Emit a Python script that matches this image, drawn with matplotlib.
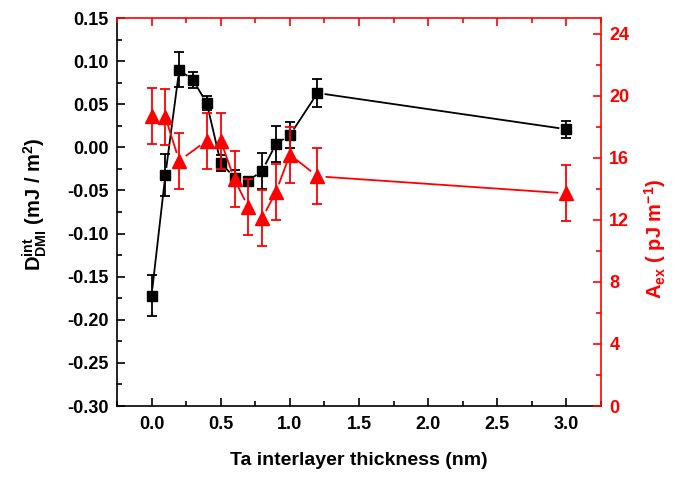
import matplotlib
matplotlib.use("Agg")
import matplotlib.pyplot as plt
import numpy as np
from matplotlib.ticker import MultipleLocator, FormatStrFormatter

plt.rcParams['font.family'] = ['Liberation Sans', 'DejaVu Sans']
plt.rcParams['font.weight'] = 'bold'
plt.rcParams['mathtext.fontset'] = 'custom'
plt.rcParams['mathtext.rm'] = 'Liberation Sans:bold'
plt.rcParams['mathtext.bf'] = 'Liberation Sans:bold'
plt.rcParams['mathtext.it'] = 'Liberation Sans:bold'

# Ta thickness (nm)
thickness = [0.0, 0.1, 0.2, 0.3, 0.4, 0.5, 0.6, 0.7, 0.8, 0.9, 1.0, 1.2, 3.0]
# interfacial DMI (mJ/m^2) and its error
d_dmi = [-0.172, -0.032, 0.090, 0.078, 0.051, -0.018, -0.035, -0.039,
         -0.027, 0.004, 0.014, 0.063, 0.021]
d_err = [0.024, 0.024, 0.020, 0.009, 0.008, 0.009, 0.009, 0.005,
         0.021, 0.021, 0.015, 0.016, 0.010]
# exchange stiffness (pJ/m) and its error (no point at 0.3 nm)
a_thick = [0.0, 0.1, 0.2, 0.4, 0.5, 0.6, 0.7, 0.8, 0.9, 1.0, 1.2, 3.0]
a_ex = [18.7, 18.6, 15.8, 17.1, 17.1, 14.6, 12.8, 12.1, 13.8, 16.2, 14.8, 13.7]
a_err = [1.8] * len(a_ex)


def gapped_line(axis, xs, ys, gap, **kw):
    # connect points with short gaps around each symbol
    pts = axis.transData.transform(np.column_stack([xs, ys]))
    inv = axis.transData.inverted()
    for p0, p1 in zip(pts[:-1], pts[1:]):
        d = p1 - p0
        L = np.hypot(*d)
        if L <= 2 * gap:
            continue
        u = d / L
        seg = inv.transform(np.array([p0 + u * gap, p1 - u * gap]))
        axis.plot(seg[:, 0], seg[:, 1], **kw)


fig = plt.figure(figsize=(6.93, 4.79), dpi=100)
ax = fig.add_axes([0.1688, 0.1524, 0.6984, 0.81])
ax.set_xlim(-0.25, 3.25)
ax.set_ylim(-0.30, 0.15)

gapped_line(ax, thickness, d_dmi, 8, color='black', linewidth=1.3)
ax.errorbar(thickness, d_dmi, yerr=d_err, color='black', marker='s', markersize=7.5,
            linestyle='none', elinewidth=1.3, capsize=3.5, capthick=1.3)
ax.xaxis.set_major_locator(MultipleLocator(0.5))
ax.xaxis.set_minor_locator(MultipleLocator(0.25))
ax.yaxis.set_major_locator(MultipleLocator(0.05))
ax.yaxis.set_minor_locator(MultipleLocator(0.025))
ax.xaxis.set_major_formatter(FormatStrFormatter('%.1f'))
ax.yaxis.set_major_formatter(FormatStrFormatter('%.2f'))
ax.tick_params(which='both', direction='in', top=False, right=False, labelsize=13, width=1.2)
ax.tick_params(axis='x', which='major', pad=7)
ax.tick_params(axis='y', which='major', pad=6)
ax.tick_params(which='major', length=6)
ax.tick_params(which='minor', length=3.5)
for s in ax.spines.values():
    s.set_linewidth(1.2)
ax.set_xlabel('Ta interlayer thickness (nm)', fontsize=14, fontweight='bold', labelpad=14)
ax.set_ylabel(r'D$^{\mathbf{int}}_{\mathbf{DMI}}$ (mJ / m$^{\mathbf{2}}$)', fontsize=14.5,
              fontweight='bold')
ax.yaxis.set_label_coords(-0.141, 0.52)

ax2 = ax.twinx()
ax2.set_ylim(0, 25)
gapped_line(ax2, a_thick, a_ex, 9, color='red', linewidth=1.3)
ax2.errorbar(a_thick, a_ex, yerr=a_err, color='red', marker='^', markersize=9.5,
             linestyle='none', elinewidth=1.3, capsize=3.5, capthick=1.3)
ax2.yaxis.set_major_locator(MultipleLocator(4))
ax2.yaxis.set_minor_locator(MultipleLocator(2))
ax2.xaxis.set_visible(True)
ax2.tick_params(axis='x', which='both', direction='in', top=True, bottom=False,
                labeltop=False, labelbottom=False, colors='red', width=1.2)
ax2.tick_params(axis='y', which='both', direction='in', colors='red', labelsize=13,
                width=1.2, pad=6)
ax2.tick_params(which='major', length=6)
ax2.tick_params(which='minor', length=3.5)
ax2.spines['left'].set_visible(False)
ax2.spines['bottom'].set_visible(False)
ax2.spines['right'].set_color('red')
ax2.spines['top'].set_color('red')
ax2.spines['right'].set_linewidth(1.2)
ax2.spines['top'].set_linewidth(1.2)
ax.spines['top'].set_visible(False)
ax.spines['right'].set_visible(False)
ax2.set_ylabel(r'A$_{\mathbf{ex}}$ ( pJ m$^{\mathbf{-1}}$)', color='red', fontsize=14.5,
               fontweight='bold')
ax2.yaxis.set_label_coords(1.085, 0.43)

fig.savefig('out.png', dpi=100)
